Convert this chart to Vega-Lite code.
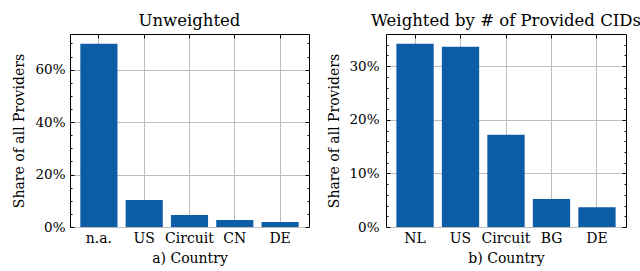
{
  "$schema": "https://vega.github.io/schema/vega-lite/v6.json",
  "padding": {"left": 12, "top": 12, "right": 5, "bottom": 4},
  "spacing": 17,
  "config": {
    "font": "DejaVu Serif",
    "view": {"stroke": "black", "strokeWidth": 1},
    "axis": {
      "labelFont": "DejaVu Serif",
      "titleFont": "DejaVu Serif",
      "labelFontSize": 14,
      "titleFontSize": 14,
      "titleFontWeight": "normal",
      "labelColor": "black",
      "titleColor": "black",
      "tickColor": "black",
      "tickWidth": 1,
      "domainColor": "black",
      "gridColor": "#bdbdbd",
      "gridWidth": 1
    },
    "title": {"font": "DejaVu Serif", "fontSize": 16.5, "fontWeight": "normal", "color": "black"}
  },
  "hconcat": [
    {
      "width": 239,
      "height": 193,
      "title": {"text": "Unweighted", "offset": 4},
      "data": {"values": [
        {"country": "n.a.", "share": 69.9},
        {"country": "US", "share": 10.3},
        {"country": "Circuit", "share": 4.6},
        {"country": "CN", "share": 2.7},
        {"country": "DE", "share": 1.9}
      ]},
      "resolve": {"axis": {"x": "independent", "y": "independent"}},
      "layer": [
        {
          "mark": {"type": "bar", "color": "#0C5DA5"},
          "encoding": {
            "x": {"field": "country", "type": "nominal", "sort": null,
              "scale": {"paddingInner": 0.18, "paddingOuter": 0.228},
              "axis": {"orient": "bottom", "title": "a) Country", "labelAngle": 0, "ticks": false, "domain": false, "grid": true, "labelPadding": 4, "titlePadding": 6}},
            "y": {"field": "share", "type": "quantitative",
              "scale": {"domain": [0, 73.6], "nice": false, "zero": true},
              "axis": {"orient": "left", "title": "Share of all Providers", "values": [0, 5, 10, 15, 20, 25, 30, 35, 40, 45, 50, 55, 60, 65, 70],
                "labelExpr": "datum.value % 20 === 0 ? datum.value + '%' : ''",
                "labelFontSize": 13.5,
                "gridOpacity": {"condition": {"test": "datum.value % 20 === 0", "value": 1}, "value": 0},
                "tickDash": {"condition": {"test": "datum.value % 20 === 0", "value": [4, 0]}, "value": [2, 10]},
                "ticks": true, "tickSize": -4, "domain": false, "grid": true, "labelPadding": 9, "titlePadding": 8}}
          }
        },
        {
          "mark": {"type": "point", "opacity": 0},
          "encoding": {
            "x": {"field": "country", "type": "nominal", "sort": null, "axis": null},
            "y": {"field": "share", "type": "quantitative",
              "axis": {"orient": "right", "values": [0, 5, 10, 15, 20, 25, 30, 35, 40, 45, 50, 55, 60, 65, 70], "labels": false, "title": null, "grid": false, "domain": false, "ticks": true, "tickSize": -4,
                "tickDash": {"condition": {"test": "datum.value % 20 === 0", "value": [4, 0]}, "value": [2, 10]}}}
          }
        },
        {
          "mark": {"type": "point", "opacity": 0},
          "encoding": {
            "x": {"field": "country", "type": "nominal", "sort": null,
              "axis": {"orient": "top", "labels": false, "title": null, "grid": false, "domain": false, "ticks": true, "tickSize": -4}},
            "y": {"field": "share", "type": "quantitative", "axis": null}
          }
        }
      ]
    },
    {
      "width": 240,
      "height": 193,
      "title": {"text": "Weighted by # of Provided CIDs", "offset": 4},
      "data": {"values": [
        {"country": "NL", "share": 34.2},
        {"country": "US", "share": 33.6},
        {"country": "Circuit", "share": 17.2},
        {"country": "BG", "share": 5.2},
        {"country": "DE", "share": 3.7}
      ]},
      "resolve": {"axis": {"x": "independent", "y": "independent"}},
      "layer": [
        {
          "mark": {"type": "bar", "color": "#0C5DA5"},
          "encoding": {
            "x": {"field": "country", "type": "nominal", "sort": null,
              "scale": {"paddingInner": 0.18, "paddingOuter": 0.228},
              "axis": {"orient": "bottom", "title": "b) Country", "labelAngle": 0, "ticks": false, "domain": false, "grid": true, "labelPadding": 4, "titlePadding": 6}},
            "y": {"field": "share", "type": "quantitative",
              "scale": {"domain": [0, 36.0], "nice": false, "zero": true},
              "axis": {"orient": "left", "title": "Share of all Providers", "values": [0, 2, 4, 6, 8, 10, 12, 14, 16, 18, 20, 22, 24, 26, 28, 30, 32, 34],
                "labelExpr": "datum.value % 10 === 0 ? datum.value + '%' : ''",
                "labelFontSize": 13.5,
                "gridOpacity": {"condition": {"test": "datum.value % 10 === 0", "value": 1}, "value": 0},
                "tickDash": {"condition": {"test": "datum.value % 10 === 0", "value": [4, 0]}, "value": [2, 10]},
                "ticks": true, "tickSize": -4, "domain": false, "grid": true, "labelPadding": 11, "titlePadding": 7}}
          }
        },
        {
          "mark": {"type": "point", "opacity": 0},
          "encoding": {
            "x": {"field": "country", "type": "nominal", "sort": null, "axis": null},
            "y": {"field": "share", "type": "quantitative",
              "axis": {"orient": "right", "values": [0, 2, 4, 6, 8, 10, 12, 14, 16, 18, 20, 22, 24, 26, 28, 30, 32, 34], "labels": false, "title": null, "grid": false, "domain": false, "ticks": true, "tickSize": -4,
                "tickDash": {"condition": {"test": "datum.value % 10 === 0", "value": [4, 0]}, "value": [2, 10]}}}
          }
        },
        {
          "mark": {"type": "point", "opacity": 0},
          "encoding": {
            "x": {"field": "country", "type": "nominal", "sort": null,
              "axis": {"orient": "top", "labels": false, "title": null, "grid": false, "domain": false, "ticks": true, "tickSize": -4}},
            "y": {"field": "share", "type": "quantitative", "axis": null}
          }
        }
      ]
    }
  ]
}
